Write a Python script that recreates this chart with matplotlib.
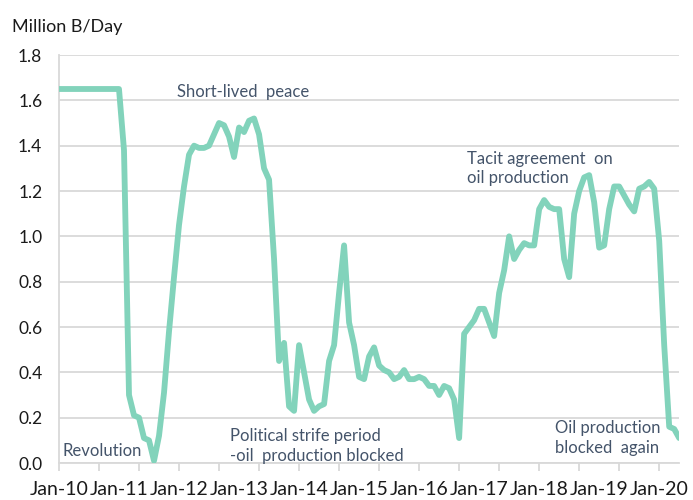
import matplotlib.pyplot as plt
import numpy as np

plt.rcParams['font.family'] = ['Lato', 'DejaVu Sans']

# Monthly production, million barrels per day, Jan-2010 onwards
production = [
    1.65, 1.65, 1.65, 1.65, 1.65, 1.65, 1.65, 1.65, 1.65, 1.65, 1.65, 1.65,  # 2010
    1.65, 1.38, 0.30, 0.21, 0.20, 0.11, 0.10, 0.01, 0.12, 0.31, 0.58, 0.82,  # 2011
    1.05, 1.22, 1.36, 1.40, 1.39, 1.39, 1.40, 1.45, 1.50, 1.49, 1.44, 1.35,  # 2012
    1.48, 1.46, 1.51, 1.52, 1.45, 1.30, 1.25, 0.90, 0.45, 0.53, 0.25, 0.23,  # 2013
    0.52, 0.40, 0.28, 0.23, 0.25, 0.26, 0.45, 0.52, 0.75, 0.96, 0.62, 0.52,  # 2014
    0.38, 0.37, 0.47, 0.51, 0.43, 0.41, 0.40, 0.37, 0.38, 0.41, 0.37, 0.37,  # 2015
    0.38, 0.37, 0.34, 0.34, 0.30, 0.34, 0.33, 0.28, 0.11, 0.57, 0.60, 0.63,  # 2016
    0.68, 0.68, 0.62, 0.56, 0.75, 0.85, 1.00, 0.90, 0.94, 0.97, 0.96, 0.96,  # 2017
    1.12, 1.16, 1.13, 1.12, 1.12, 0.90, 0.82, 1.10, 1.20, 1.26, 1.27, 1.15,  # 2018
    0.95, 0.96, 1.12, 1.22, 1.22, 1.18, 1.14, 1.11, 1.21, 1.22, 1.24, 1.21,  # 2019
    0.98, 0.52, 0.16, 0.15, 0.11,                                            # 2020
]
year_labels = ['Jan-10', 'Jan-11', 'Jan-12', 'Jan-13', 'Jan-14', 'Jan-15',
               'Jan-16', 'Jan-17', 'Jan-18', 'Jan-19', 'Jan-20']
y_ticks = [0.0, 0.2, 0.4, 0.6, 0.8, 1.0, 1.2, 1.4, 1.6, 1.8]

# (month index, value, text)
notes = [
    (0.8, 0.053, 'Revolution'),
    (23.6, 1.637, 'Short-lived  peace'),
    (34.2, 0.075, 'Political strife period\n-oil  production blocked'),
    (81.6, 1.30, 'Tacit agreement  on\noil production'),
    (99.2, 0.11, 'Oil production\nblocked  again'),
]

line_color = '#82d3bb'
text_color = '#44546a'
grid_color = '#d9d9d9'

months = np.arange(len(production))

fig = plt.figure(figsize=(6.93, 5.0), dpi=100)
ax = fig.add_axes([0.0851, 0.074, 0.895, 0.816])

ax.plot(months, production, color=line_color, lw=4.2,
        solid_joinstyle='round', solid_capstyle='round', zorder=3)

ax.set_xlim(0, 124)
ax.set_ylim(0, 1.8)
ax.set_yticks(y_ticks)
ax.set_yticklabels([f'{v:.1f}' for v in y_ticks])
ax.yaxis.grid(True, color=grid_color, lw=1.3)
ax.set_axisbelow(True)
ax.tick_params(axis='y', length=0, pad=12, labelsize=12.5, colors='#1a1a1a')

# labels every 12 months, tick marks every 8 months
ax.xaxis.remove_overlapping_locs = False
ax.set_xticks(np.arange(0, 121, 12))
ax.set_xticklabels(year_labels)
ax.tick_params(axis='x', which='major', length=0, pad=13, labelsize=14,
               colors='#1a1a1a')
ax.set_xticks(np.arange(0, 125, 8), minor=True)
ax.tick_params(axis='x', which='minor', length=6, width=1.3, color=grid_color)

for side in ['top', 'right']:
    ax.spines[side].set_visible(False)
for side in ['left', 'bottom']:
    ax.spines[side].set_color(grid_color)
    ax.spines[side].set_linewidth(1.3)

for m, v, label in notes:
    ax.text(m, v, label, color=text_color, fontsize=12, ha='left', va='center',
            linespacing=1.25, zorder=4)

fig.text(12 / 693, 1 - 27 / 500, 'Million B/Day', fontsize=13, color='#1a1a1a',
         ha='left', va='center')

fig.savefig('out.png', dpi=100)
